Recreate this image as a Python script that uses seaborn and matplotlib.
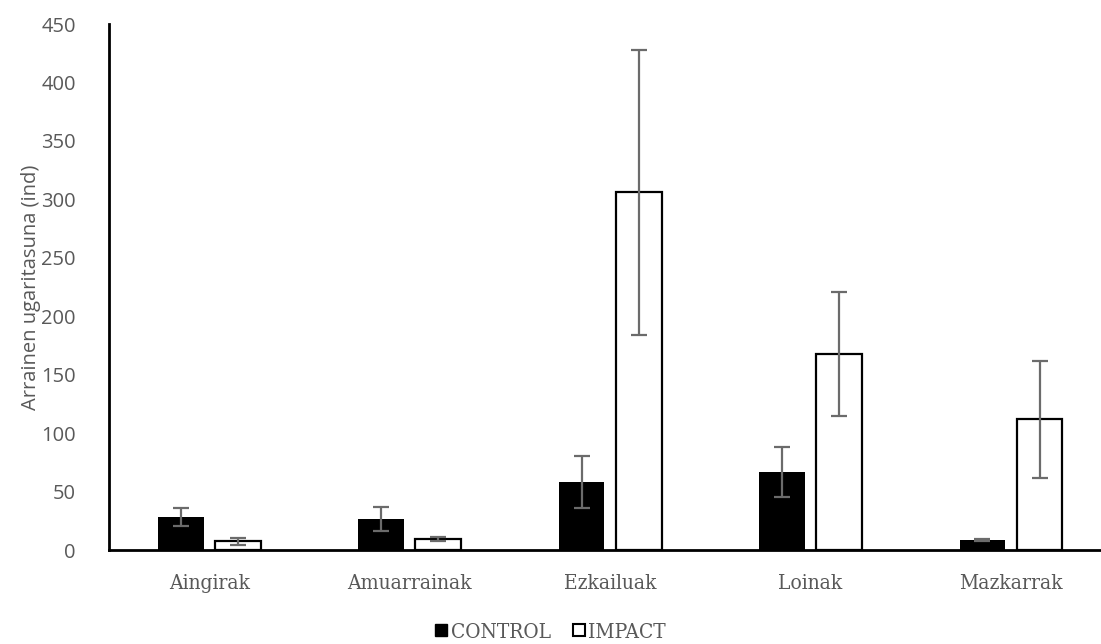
import numpy as np
import pandas as pd
import matplotlib
matplotlib.use("Agg")
import matplotlib.pyplot as plt
from matplotlib.lines import Line2D
import seaborn as sns

# Fish abundance per species, control vs impact sites (mean and error)
species = ["Aingirak", "Amuarrainak", "Ezkailuak", "Loinak", "Mazkarrak"]
groups = ["CONTROL", "IMPACT"]
control_mean = [28.5, 26.5, 58, 66.5, 8.5]
control_err = [7.8, 10.5, 22, 21.5, 1]
impact_mean = [7.5, 9.5, 306, 168, 112]
impact_err = [3, 1.5, 122, 53, 50]
yticks = [0, 50, 100, 150, 200, 250, 300, 350, 400, 450]

df = pd.DataFrame({
    "species": species * 2,
    "group": [groups[0]] * len(species) + [groups[1]] * len(species),
    "value": control_mean + impact_mean,
    "err": control_err + impact_err,
})

sns.set_theme(style="white")
plt.rcParams["font.family"] = ["Open Sans", "DejaVu Sans"]

fig = plt.figure(figsize=(11.01, 6.44), dpi=100)
ax = fig.add_axes([109 / 1101, 94 / 644, 1 - 109 / 1101, 526 / 644])

sns.barplot(data=df, x="species", y="value", hue="group", order=species,
            hue_order=groups, palette={"CONTROL": "black", "IMPACT": "white"},
            errorbar=None, width=0.57, gap=0.2, dodge=True, legend=False, ax=ax)

grey = "#6b6b6b"
for container, g in zip(ax.containers, groups):
    sub = df[df["group"] == g].set_index("species").loc[species]
    xs = [p.get_x() + p.get_width() / 2 for p in container.patches]
    for p in container.patches:
        p.set_edgecolor("black")
        p.set_linewidth(1.6 if g == "IMPACT" else 0)
    ax.errorbar(xs, sub["value"], yerr=sub["err"], fmt="none",
                ecolor=grey, elinewidth=1.6, capsize=6, capthick=1.6, zorder=5)

ax.set_xlim(-0.5, 4.449)
ax.set_ylim(0, 450)
ax.set_yticks(yticks)
ax.set_yticklabels([str(t) for t in yticks], fontsize=14.5, color="#595959")
ax.tick_params(axis="y", length=0, pad=24)
ax.set_xticks(range(len(species)))
ax.set_xticklabels(species, fontsize=15, color="#595959",
                   family=["DejaVu Serif"], fontstretch="condensed")
ax.tick_params(axis="x", length=0, pad=17)
ax.set_xlabel("")
ax.set_ylabel("Arrainen ugaritasuna (ind)", fontsize=14.5, color="#595959")
ax.yaxis.set_label_coords((41 - 109) / 992, 0.5)

for s in ["top", "right"]:
    ax.spines[s].set_visible(False)
for s in ["left", "bottom"]:
    ax.spines[s].set_color("black")
    ax.spines[s].set_linewidth(2)

handles = [
    Line2D([], [], linestyle="none", marker="s", markersize=9,
           markerfacecolor="black", markeredgecolor="black"),
    Line2D([], [], linestyle="none", marker="s", markersize=9,
           markerfacecolor="white", markeredgecolor="black", markeredgewidth=1.5),
]
fig.legend(handles, groups, loc="center", bbox_to_anchor=(550 / 1101, 1 - 632 / 644),
           ncol=2, frameon=False, handlelength=0.7, handletextpad=0.1,
           columnspacing=1.0,
           prop={"family": "DejaVu Serif", "stretch": "condensed", "size": 15},
           labelcolor="#595959")

fig.savefig("out.png", dpi=100)
